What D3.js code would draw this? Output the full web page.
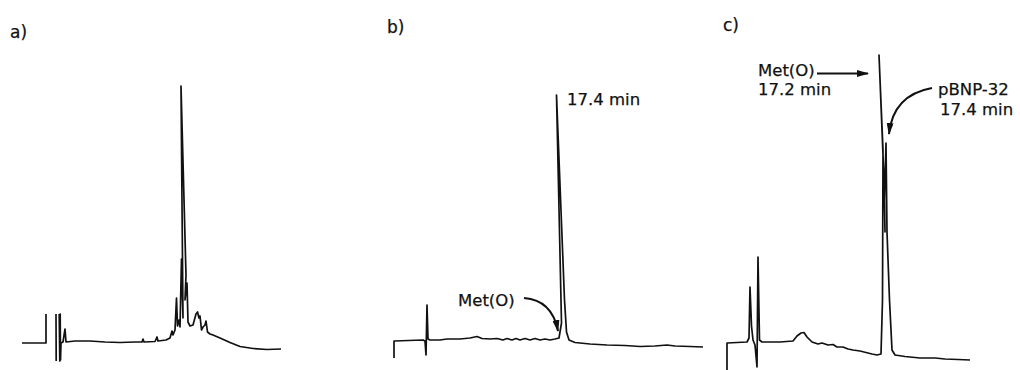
<!DOCTYPE html>
<html>
<head>
<meta charset="utf-8">
<script src="https://cdn.jsdelivr.net/npm/d3@7"></script>
<style>
body{margin:0;background:#fff;}
svg{display:block;}
text{font-family:"DejaVu Sans",sans-serif;fill:#111;stroke:#111;stroke-width:0.25px;}
</style>
</head>
<body>
<script>

// chromatogram traces as [time (min), signal (AU)], null = pen lifted
var traceA = [
  [0,0],[2.4,0],[2.4,0.29], null,
  [3.4,0.29],[3.42,-0.18], null,
  [3.72,0.29],[3.78,-0.18],[3.82,0.29],[3.85,-0.17],[3.9,0],[4.1,0.01],
  [4.3,0.14],[4.4,0.01],[5.3,0.02],[6.8,0.02],[8.3,0.01],[9.8,0.005],[11.3,0.01],
  [12.0,0.01],[12.1,0.04],[12.2,0.01],[13.3,0.015],[13.5,0.06],[13.6,0.02],
  [14.4,0.03],[14.8,0.05],[15.0,0.12],[15.1,0.08],[15.3,0.13],[15.45,0.45],
  [15.55,0.17],[15.7,0.23],[15.8,0.16],[15.95,0.84],[16.05,0.43],[16.1,0.25],
  [15.9,2.57],[16.4,0.68],[16.3,0.43],[16.5,0.60],[16.6,0.21],[16.8,0.17],
  [17.1,0.18],[17.4,0.29],[17.55,0.31],[17.7,0.25],[17.8,0.27],[17.95,0.13],
  [18.1,0.16],[18.3,0.18],[18.4,0.22],[18.55,0.11],[18.8,0.09],[19.1,0.08],
  [19.8,0.05],[20.8,0.005],[21.8,-0.035],[23.1,-0.055],[24.5,-0.065],[25.9,-0.06]
];

var traceB = [
  [0,-0.15],[0,0.02],[2.9,0.03],[3.1,0.02],[3.2,-0.12],[3.3,0.38],[3.4,0.04],
  [3.6,0.03],[4.6,0.03],[5.3,0.04],[6.6,0.04],[7.6,0.05],[8.3,0.065],[8.8,0.045],
  [9.6,0.04],[10.3,0.045],[10.9,0.03],[11.3,0.045],[11.8,0.03],[12.2,0.045],
  [12.6,0.03],[13.1,0.045],[13.6,0.03],[14.1,0.045],[14.6,0.03],[15.1,0.04],
  [15.6,0.03],[16.1,0.04],[16.5,0.05],[16.75,0.2],[16.25,2.48],[17.05,0.43],
  [17.25,0.11],[17.5,0.03],[18.1,0.005],[19.6,-0.01],[21.3,-0.02],[23.1,-0.025],
  [24.6,-0.035],[26.1,-0.03],[27.3,-0.02],[28.1,-0.03],[29.6,-0.035],[30.9,-0.04]
];

var traceC = [
  [0,-0.27],[0,0],[2.0,0.01],[2.2,0.05],[2.3,0.56],[2.45,0.17],[2.6,0.03],
  [2.8,-0.02],[3.0,-0.24],[3.1,0.86],[3.25,0.03],[3.5,0.01],[5.3,0.01],[6.6,0.02],
  [7.0,0.07],[7.4,0.10],[7.7,0.105],[8.0,0.06],[8.5,0.01],[9.1,-0.01],[9.5,0],
  [10.1,-0.02],[10.6,-0.015],[11.0,-0.04],[11.6,-0.04],[12.1,-0.06],[12.6,-0.07],
  [13.3,-0.08],[13.9,-0.095],[14.5,-0.11],[15.0,-0.12],[15.4,-0.11],[15.55,0.43],
  [15.6,1.93],[15.2,2.88],[15.7,1.63],[15.8,1.11],[15.75,1.43],[15.9,2.0],
  [16.0,1.11],[16.25,0.43],[16.5,-0.07],[16.8,-0.12],[17.8,-0.135],[19.3,-0.15],
  [20.8,-0.15],[21.8,-0.16],[23.1,-0.165],[24.3,-0.17]
];

var panelLabels = ["a)", "b)", "c)"];

// annotation anchors, same units as the traces
var notesB = [
  {text: "17.4 min", t: 17.3, s: 2.38},
  {text: "Met(O)", t: 6.4, s: 0.37}
];
var notesC = [
  {text: "Met(O)", t: 3.1, s: 2.67},
  {text: "17.2 min", t: 3.1, s: 2.48},
  {text: "pBNP-32", t: 21.1, s: 2.48},
  {text: "17.4 min", t: 21.3, s: 2.28}
];
var arrowsB = [
  [[13.0,0.45],[15.8,0.43],[16.4,0.12]]
];
var arrowsC = [
  [[9.0,2.695],[14.1,2.695]],
  [[20.5,2.55],[16.6,2.48],[16.2,2.09]]
];

var svg = d3.select("body").append("svg")
    .attr("width", 1020).attr("height", 370);

svg.append("rect").attr("width", 1020).attr("height", 370).attr("fill", "#fff");

svg.append("defs").append("marker")
    .attr("id", "head")
    .attr("markerUnits", "userSpaceOnUse")
    .attr("viewBox", "0 0 12 7")
    .attr("refX", 11).attr("refY", 3.5)
    .attr("markerWidth", 12).attr("markerHeight", 7)
    .attr("orient", "auto")
  .append("path")
    .attr("d", "M0,0 L12,3.5 L0,7 Z")
    .attr("fill", "#111");

var y = d3.scaleLinear().domain([0, 2.6]).range([343, 83]);

// 10 px per minute, each panel starts where its pen starts
function panelScale(x0){
    return d3.scaleLinear().domain([0, 30]).range([x0, x0 + 300]);
}

var xA = panelScale(22), xB = panelScale(394), xC = panelScale(727);

function drawTrace(data, x){
    var line = d3.line()
	.defined(function(d){ return d != null; })
	.x(function(d){ return x(d[0]); })
	.y(function(d){ return y(d[1]); });
    svg.append("path")
	.datum(data)
	.attr("d", line)
	.attr("fill", "none")
	.attr("stroke", "#111")
	.attr("stroke-width", 1.7)
	.attr("stroke-linejoin", "round");
}

function drawNotes(notes, x){
    notes.forEach(function(n){
	svg.append("text")
	    .attr("x", x(n.t)).attr("y", y(n.s))
	    .attr("font-size", "16.5px")
	    .text(n.text);
    });
}

function drawArrows(arrows, x){
    arrows.forEach(function(a){
	var p = a.map(function(d){ return [x(d[0]), y(d[1])]; });
	var d = "M" + p[0];
	if(p.length == 3){ d += "Q" + p[1] + " " + p[2]; }
	else { d += "L" + p[1]; }
	svg.append("path")
	    .attr("d", d)
	    .attr("fill", "none")
	    .attr("stroke", "#111")
	    .attr("stroke-width", 2)
	    .attr("marker-end", "url(#head)");
    });
}

drawTrace(traceA, xA);
drawTrace(traceB, xB);
drawTrace(traceC, xC);

drawNotes(notesB, xB);
drawNotes(notesC, xC);
drawArrows(arrowsB, xB);
drawArrows(arrowsC, xC);

// panel letters sit up-left of each trace
var labelPos = [[10,38],[387,33],[723,31]];
panelLabels.forEach(function(l, i){
    svg.append("text")
	.attr("x", labelPos[i][0]).attr("y", labelPos[i][1])
	.attr("font-size", "17px")
	.text(l);
});

</script>
</body>
</html>
